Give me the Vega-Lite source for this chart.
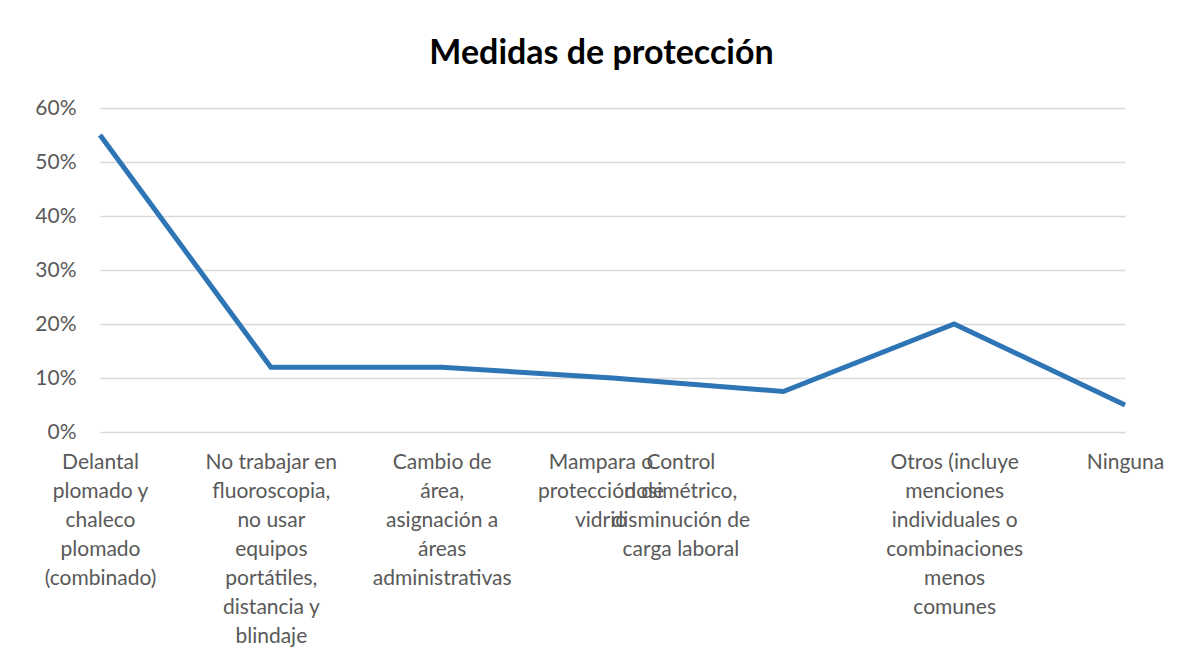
{
  "$schema": "https://vega.github.io/schema/vega-lite/v6.json",
  "autosize": "none",
  "width": 1025,
  "height": 324,
  "padding": {"left": 100, "top": 108, "right": 69, "bottom": 233},
  "background": "white",
  "title": {
    "text": "Medidas de protección",
    "font": "Lato",
    "fontSize": 34,
    "fontWeight": "bold",
    "color": "#000000",
    "anchor": "middle",
    "frame": "group",
    "dx": -11,
    "baseline": "alphabetic",
    "offset": -1
  },
  "data": {
    "values": [
      {"medida": "Delantal plomado y chaleco plomado (combinado)", "porcentaje": 0.55},
      {"medida": "No trabajar en fluoroscopia, no usar equipos portátiles, distancia y blindaje", "porcentaje": 0.12},
      {"medida": "Cambio de área, asignación a áreas administrativas", "porcentaje": 0.12},
      {"medida": "Mampara o protección de vidrio", "porcentaje": 0.10},
      {"medida": "Control dosimétrico, disminución de carga laboral", "porcentaje": 0.075},
      {"medida": "Otros (incluye menciones individuales o combinaciones menos comunes)", "porcentaje": 0.20},
      {"medida": "Ninguna", "porcentaje": 0.05}
    ]
  },
  "mark": {"type": "line", "color": "#2e75b6", "strokeWidth": 5},
  "encoding": {
    "x": {
      "field": "medida",
      "type": "nominal",
      "sort": null,
      "scale": {"type": "point", "padding": 0},
      "axis": {
        "title": null,
        "domain": false,
        "ticks": false,
        "grid": false,
        "labelAngle": 0,
        "labelAlign": "center",
        "labelBaseline": "top",
        "labelPadding": 19,
        "labelFont": "Lato",
        "labelFontSize": 21,
        "labelColor": "#595959",
        "labelLineHeight": 29,
        "labelOverlap": false,
        "labelBound": false,
        "labelLimit": 0,
        "labelOffset": {
          "condition": [
            {"test": "datum.value == 'Mampara o protección de vidrio'", "value": -12},
            {"test": "datum.value == 'Control dosimétrico, disminución de carga laboral'", "value": -103}
          ],
          "value": 0
        },
        "labelExpr": "datum.value == 'Delantal plomado y chaleco plomado (combinado)' ? ['Delantal','plomado y','chaleco','plomado','(combinado)'] : datum.value == 'No trabajar en fluoroscopia, no usar equipos portátiles, distancia y blindaje' ? ['No trabajar en','fluoroscopia,','no usar','equipos','portátiles,','distancia y','blindaje'] : datum.value == 'Cambio de área, asignación a áreas administrativas' ? ['Cambio de','área,','asignación a','áreas','administrativas'] : datum.value == 'Mampara o protección de vidrio' ? ['Mampara o','protección de','vidrio'] : datum.value == 'Control dosimétrico, disminución de carga laboral' ? ['Control','dosimétrico,','disminución de','carga laboral'] : datum.value == 'Otros (incluye menciones individuales o combinaciones menos comunes)' ? ['Otros (incluye','menciones','individuales o','combinaciones','menos','comunes'] : datum.value"
      }
    },
    "y": {
      "field": "porcentaje",
      "type": "quantitative",
      "scale": {"domain": [0, 0.6]},
      "axis": {
        "title": null,
        "format": ".0%",
        "values": [0, 0.1, 0.2, 0.3, 0.4, 0.5, 0.6],
        "domain": false,
        "ticks": false,
        "grid": true,
        "gridColor": "#d9d9d9",
        "gridWidth": 1.5,
        "labelPadding": 24,
        "labelFont": "Lato",
        "labelFontSize": 21,
        "labelColor": "#595959"
      }
    }
  },
  "config": {
    "view": {"stroke": null}
  }
}
